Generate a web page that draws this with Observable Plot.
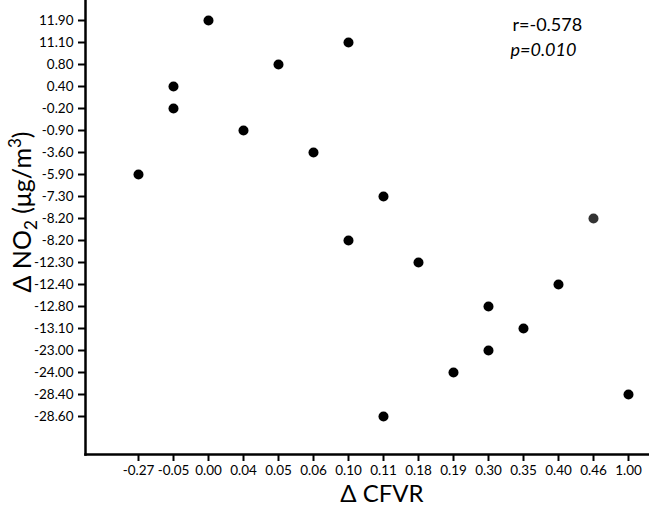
<!DOCTYPE html>
<html><head><meta charset="utf-8">
<script src="https://cdn.jsdelivr.net/npm/d3@7"></script>
<script src="https://cdn.jsdelivr.net/npm/@observablehq/plot@0.6"></script>
<style>body{margin:0;background:#fff;font-family:Lato,"Open Sans",sans-serif}</style>
</head><body><div id="chart"></div>
<script>
const xTickLabels = ["-0.27","-0.05","0.00","0.04","0.05","0.06","0.10","0.11","0.18","0.19","0.30","0.35","0.40","0.46","1.00"];
const yTickLabels = ["11.90","11.10","0.80","0.40","-0.20","-0.90","-3.60","-5.90","-7.30","-8.20","-8.20","-12.30","-12.40","-12.80","-13.10","-23.00","-24.00","-28.40","-28.60"];
// each point: index into x tick labels and y tick labels
const pointX = [2,6,4,1,1,3,5,0,7,13,6,8,12,10,11,10,9,14,7];
const pointY = [0,1,2,3,4,5,6,7,8,9,10,11,12,13,14,15,16,17,18];
const pointFill = ["#000","#000","#000","#000","#000","#000","#000","#000","#000","#333","#000","#000","#000","#000","#000","#000","#000","#000","#000"];
const stats = ["r=-0.578","p=0.010"];

const data = pointX.map((x,i)=>({x, y: pointY[i], fill: pointFill[i]}));

const chart = Plot.plot({
  width: 649, height: 507,
  marginLeft: 85, marginRight: 0, marginTop: 0, marginBottom: 53,
  style: {fontFamily: "Lato, 'Open Sans', sans-serif", fontSize: "13.5px", color: "#000", background: "#fff"},
  x: {type: "point", domain: d3.range(xTickLabels.length), range: [132.7, 632.7], padding: 0},
  y: {type: "point", domain: d3.range(yTickLabels.length), range: [15, 420], padding: 0},
  marks: [
    Plot.frame({anchor: "left", strokeWidth: 2.5}),
    Plot.frame({anchor: "bottom", strokeWidth: 2.5}),
    Plot.axisX({tickFormat: i => xTickLabels[i], tickSize: 7, tickPadding: 4, strokeWidth: 2, label: null, fontSize: 13.5}),
    Plot.axisY({tickFormat: i => yTickLabels[i], tickSize: 7, tickPadding: 5, strokeWidth: 2, label: null, fontSize: 13.5}),
    Plot.dot(data, {x: "x", y: "y", r: 5, fill: "fill", stroke: null}),
    Plot.text([stats[0]], {frameAnchor: "top-left", dx: 427, dy: 25, fontSize: 18, textAnchor: "start", lineAnchor: "middle", fill: "#000"}),
    Plot.text([stats[1]], {frameAnchor: "top-left", dx: 425, dy: 50, fontSize: 18, textAnchor: "start", lineAnchor: "middle", fontStyle: "italic", fill: "#000"})
  ]
});
document.getElementById("chart").appendChild(chart);

const svg = d3.select(chart);
// y-axis title with subscript / superscript
const yl = svg.append("text")
  .attr("transform", "translate(31,212) rotate(-90)")
  .attr("text-anchor", "middle")
  .attr("font-size", 25)
  .attr("font-family", "Lato, 'Open Sans', sans-serif")
  .attr("fill", "#000");
yl.append("tspan").text("Δ NO");
yl.append("tspan").attr("font-size", 17).attr("dy", 6).text("2");
yl.append("tspan").attr("dy", -6).text(" (μg/m");
yl.append("tspan").attr("font-size", 17).attr("dy", -10).text("3");
yl.append("tspan").attr("dy", 10).text(")");
// x-axis title
svg.append("text")
  .attr("x", 382).attr("y", 502)
  .attr("text-anchor", "middle")
  .attr("font-size", 24)
  .attr("font-family", "Lato, 'Open Sans', sans-serif")
  .attr("fill", "#000")
  .text("Δ CFVR");
</script></body></html>
